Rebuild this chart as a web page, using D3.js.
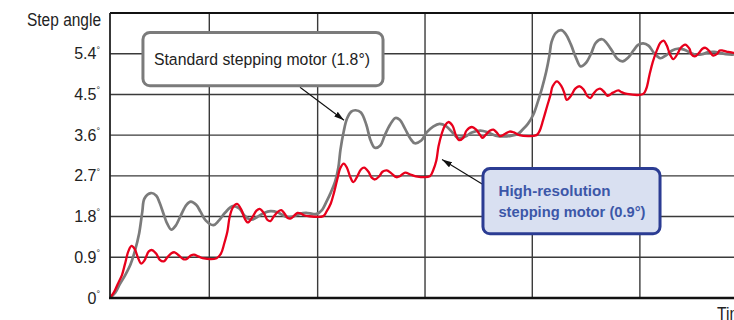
<!DOCTYPE html>
<html><head><meta charset="utf-8">
<script src="https://cdn.jsdelivr.net/npm/d3@7"></script>
<style>
html,body{margin:0;padding:0;background:#fff;overflow:hidden}
svg{display:block}
</style></head><body>
<svg id="chart" width="734" height="320"></svg>
<script>
// ---------- data ----------
const yTickValues = [0, 0.9, 1.8, 2.7, 3.6, 4.5, 5.4];
const yTickLabels = ["0", "0.9", "1.8", "2.7", "3.6", "4.5", "5.4"];
const timeGridValues = [0.922, 1.928, 2.925, 3.921, 4.92];
const yAxisTitle = "Step angle";
const xAxisTitle = "Time";
const seriesNames = ["Standard stepping motor (1.8°)", "High-resolution", "stepping motor (0.9°)"];

const standardTime = [0,0.05,0.09,0.14,0.19,0.23,0.27,0.30,0.32,0.38,
0.43,0.46,0.50,0.53,0.57,0.61,0.66,0.71,0.75,0.80,
0.84,0.89,0.96,1.01,1.07,1.14,1.20,1.25,1.31,1.36,
1.43,1.49,1.56,1.63,1.70,1.76,1.82,1.88,1.92,1.97,
2.01,2.05,2.09,2.12,2.14,2.17,2.20,2.24,2.28,2.33,
2.38,2.42,2.46,2.51,2.55,2.60,2.65,2.69,2.74,2.79,
2.83,2.89,2.94,3.00,3.06,3.12,3.18,3.23,3.30,3.36,
3.44,3.51,3.58,3.66,3.73,3.79,3.83,3.88,3.93,3.97,
4.01,4.05,4.08,4.10,4.14,4.19,4.23,4.28,4.33,4.37,
4.42,4.47,4.51,4.57,4.61,4.66,4.71,4.76,4.81,4.86,
4.90,4.95,5.00,5.05,5.11,5.16,5.22,5.27,5.33,5.39,
5.44,5.50,5.55,5.61,5.66,5.72,5.78,5.83];
const standardAngle = [0,0.12,0.30,0.50,0.74,1.03,1.42,1.91,2.20,2.32,
2.26,2.11,1.84,1.65,1.51,1.60,1.84,2.06,2.13,2.06,
1.91,1.71,1.61,1.71,1.89,2.03,1.98,1.82,1.73,1.78,
1.88,1.92,1.89,1.80,1.80,1.86,1.88,1.86,1.86,1.95,
2.13,2.33,2.57,2.88,3.28,3.68,3.96,4.12,4.15,4.10,
3.83,3.48,3.32,3.37,3.59,3.83,3.98,3.94,3.74,3.52,
3.42,3.48,3.66,3.79,3.85,3.80,3.66,3.54,3.57,3.66,
3.70,3.66,3.59,3.57,3.59,3.63,3.72,3.85,4.05,4.32,
4.63,5.00,5.36,5.66,5.86,5.92,5.84,5.60,5.29,5.12,
5.20,5.42,5.64,5.72,5.64,5.47,5.29,5.23,5.31,5.47,
5.59,5.63,5.58,5.42,5.30,5.36,5.47,5.51,5.49,5.42,
5.38,5.39,5.43,5.44,5.42,5.39,5.38,5.40];

const highResTime = [0,0.04,0.07,0.11,0.14,0.17,0.20,0.23,0.26,0.29,
0.32,0.36,0.39,0.43,0.46,0.50,0.53,0.57,0.60,0.64,
0.68,0.71,0.75,0.78,0.82,0.86,0.99,1.03,1.06,1.09,
1.11,1.14,1.18,1.22,1.25,1.28,1.32,1.36,1.39,1.43,
1.46,1.49,1.52,1.56,1.59,1.62,1.65,1.68,1.71,1.74,
1.77,1.80,1.84,1.98,2.01,2.05,2.08,2.11,2.14,2.17,
2.20,2.23,2.26,2.29,2.33,2.36,2.40,2.43,2.46,2.50,
2.53,2.57,2.61,2.66,2.69,2.74,2.79,2.84,2.97,3.00,
3.03,3.05,3.08,3.11,3.14,3.18,3.21,3.24,3.28,3.31,
3.36,3.40,3.44,3.46,3.49,3.53,3.56,3.59,3.62,3.67,
3.71,3.75,3.80,3.96,3.99,4.02,4.06,4.09,4.11,4.15,
4.19,4.22,4.24,4.28,4.32,4.36,4.40,4.43,4.46,4.49,
4.52,4.55,4.59,4.62,4.67,4.72,4.75,4.80,4.95,4.98,
5.01,5.04,5.08,5.11,5.14,5.17,5.20,5.23,5.27,5.30,
5.34,5.38,5.40,5.43,5.47,5.50,5.53,5.56,5.60,5.64,
5.66,5.69,5.74,5.79,5.83];
const highResAngle = [0,0.14,0.30,0.50,0.76,1.03,1.15,1.08,0.89,0.76,
0.83,1.03,1.06,0.98,0.85,0.81,0.89,0.99,1.01,0.94,
0.86,0.86,0.94,0.96,0.92,0.88,0.88,0.98,1.20,1.47,
1.78,2.00,2.08,1.95,1.76,1.67,1.78,1.93,1.97,1.87,
1.73,1.70,1.80,1.91,1.94,1.87,1.77,1.76,1.82,1.88,
1.87,1.83,1.81,1.81,1.91,2.09,2.33,2.62,2.88,2.97,
2.88,2.68,2.56,2.66,2.84,2.88,2.79,2.66,2.62,2.69,
2.79,2.82,2.76,2.67,2.69,2.77,2.73,2.69,2.69,2.82,
3.04,3.35,3.63,3.81,3.89,3.81,3.61,3.49,3.54,3.70,
3.78,3.72,3.59,3.54,3.61,3.70,3.72,3.66,3.58,3.63,
3.68,3.66,3.60,3.60,3.70,3.92,4.25,4.49,4.68,4.79,
4.69,4.52,4.38,4.47,4.63,4.68,4.60,4.47,4.42,4.52,
4.60,4.63,4.55,4.47,4.54,4.59,4.55,4.51,4.51,4.63,
4.94,5.22,5.49,5.64,5.69,5.58,5.38,5.28,5.40,5.53,
5.60,5.51,5.38,5.34,5.42,5.51,5.53,5.47,5.36,5.40,
5.47,5.47,5.44,5.42,5.42];

// ---------- drawing ----------
const W = 734, H = 320;
const svg = d3.select("#chart");
const x = d3.scaleLinear().domain([0, 6]).range([110, 756.2]);
const y = d3.scaleLinear().domain([0, 6.3]).range([298, 13]);
const font = "'Liberation Sans',Arial,Helvetica,sans-serif";

const defs = svg.append("defs");
defs.append("clipPath").attr("id", "plotclip")
  .append("rect").attr("x", x(0)).attr("y", y(6.3)).attr("width", W - x(0)).attr("height", y(0) - y(6.3));
defs.append("marker").attr("id", "arrow").attr("viewBox", "0 0 10 6")
  .attr("refX", 10).attr("refY", 3).attr("markerWidth", 10).attr("markerHeight", 6)
  .attr("markerUnits", "userSpaceOnUse").attr("orient", "auto")
  .append("path").attr("d", "M0,0 L10,3 L0,6 Z").attr("fill", "#111");

// grid
const grid = svg.append("g");
grid.selectAll("line.h").data(yTickValues.filter(v => v > 0)).join("line")
  .attr("x1", x(0)).attr("x2", W).attr("y1", d => y(d)).attr("y2", d => y(d))
  .attr("stroke", "#3a3a3a").attr("stroke-width", 1.4);
grid.selectAll("line.v").data(timeGridValues).join("line")
  .attr("x1", d => x(d)).attr("x2", d => x(d)).attr("y1", y(6.3)).attr("y2", y(0))
  .attr("stroke", "#3a3a3a").attr("stroke-width", 1.4);

// curves
const line = d3.line().x(d => x(d[0])).y(d => y(d[1])).curve(d3.curveCatmullRom.alpha(0.5));
const standard = standardTime.map((t, i) => [t, standardAngle[i]]);
const highRes = highResTime.map((t, i) => [t, highResAngle[i]]);
const curves = svg.append("g").attr("clip-path", "url(#plotclip)");
curves.append("path").datum(standard).attr("d", line)
  .attr("fill", "none").attr("stroke", "#7b7b7b").attr("stroke-width", 2.7).attr("stroke-linejoin", "round");
curves.append("path").datum(highRes).attr("d", line)
  .attr("fill", "none").attr("stroke", "#e8001c").attr("stroke-width", 2.3).attr("stroke-linejoin", "round");

// frame
svg.append("line").attr("x1", x(0)).attr("x2", W).attr("y1", y(6.3)).attr("y2", y(6.3))
  .attr("stroke", "#111").attr("stroke-width", 1.8);
svg.append("line").attr("x1", x(0)).attr("x2", x(0)).attr("y1", y(6.3)).attr("y2", y(0))
  .attr("stroke", "#222").attr("stroke-width", 1.8);
svg.append("line").attr("x1", x(0) - 1).attr("x2", W).attr("y1", y(0)).attr("y2", y(0))
  .attr("stroke", "#111").attr("stroke-width", 2.4);

// y axis labels
const yAxis = d3.axisLeft(y).tickValues(yTickValues).tickSize(0).tickPadding(10)
  .tickFormat((d, i) => yTickLabels[i]);
const ya = svg.append("g").attr("transform", `translate(${x(0)},0)`).call(yAxis);
ya.select(".domain").remove();
ya.selectAll(".tick text").attr("font-family", font).attr("font-size", 16).attr("fill", "#222")
  .each(function(d, i) {
    const t = d3.select(this);
    t.text(null);
    t.append("tspan").text(yTickLabels[i]);
    t.append("tspan").attr("font-size", 9).attr("dy", "-0.75em").text("°");
  });

svg.append("text").attr("x", 27).attr("y", 26)
  .attr("font-family", font).attr("font-size", 17.5).attr("fill", "#222")
  .attr("textLength", 74).attr("lengthAdjust", "spacingAndGlyphs").text(yAxisTitle);
svg.append("text").attr("x", 717).attr("y", 319.5)
  .attr("font-family", font).attr("font-size", 18).attr("fill", "#222")
  .attr("textLength", 34).attr("lengthAdjust", "spacingAndGlyphs").text(xAxisTitle);

// annotation 1
const b1 = {t0: 0.306, t1: 2.535, a0: 5.87, a1: 4.69};
const ann = svg.append("g");
ann.append("line").attr("x1", x(1.764)).attr("y1", y(4.66)).attr("x2", x(2.173)).attr("y2", y(3.93))
  .attr("stroke", "#111").attr("stroke-width", 1.1).attr("marker-end", "url(#arrow)");
ann.append("rect").attr("x", x(b1.t0)).attr("y", y(b1.a0))
  .attr("width", x(b1.t1) - x(b1.t0)).attr("height", y(b1.a1) - y(b1.a0))
  .attr("rx", 7).attr("fill", "#fff").attr("stroke", "#7b7b7b").attr("stroke-width", 3);
ann.append("text").attr("x", x(b1.t0) + 11).attr("y", (y(b1.a0) + y(b1.a1)) / 2 + 5.8)
  .attr("font-family", font).attr("font-size", 16.3).attr("fill", "#222")
  .attr("textLength", 216).attr("lengthAdjust", "spacingAndGlyphs")
  .text(seriesNames[0]);

// annotation 2
const b2 = {t0: 3.463, t1: 5.107, a0: 2.86, a1: 1.42};
ann.append("line").attr("x1", x(3.463)).attr("y1", y(2.51)).attr("x2", x(3.083)).attr("y2", y(3.06))
  .attr("stroke", "#111").attr("stroke-width", 1.1).attr("marker-end", "url(#arrow)");
ann.append("rect").attr("x", x(b2.t0)).attr("y", y(b2.a0))
  .attr("width", x(b2.t1) - x(b2.t0)).attr("height", y(b2.a1) - y(b2.a0))
  .attr("rx", 7).attr("fill", "#d9e0f1").attr("stroke", "#2b3c93").attr("stroke-width", 3);
ann.append("text").attr("x", x(b2.t0) + 15.5).attr("y", y(b2.a0) + 27.7)
  .attr("font-family", font).attr("font-weight", "bold").attr("font-size", 15.5).attr("fill", "#3c57a8")
  .attr("textLength", 112).attr("lengthAdjust", "spacingAndGlyphs")
  .text(seriesNames[1]);
ann.append("text").attr("x", x(b2.t0) + 15.5).attr("y", y(b2.a0) + 48.7)
  .attr("font-family", font).attr("font-weight", "bold").attr("font-size", 15.5).attr("fill", "#3c57a8")
  .attr("textLength", 147).attr("lengthAdjust", "spacingAndGlyphs")
  .text(seriesNames[2]);
</script>
</body></html>
